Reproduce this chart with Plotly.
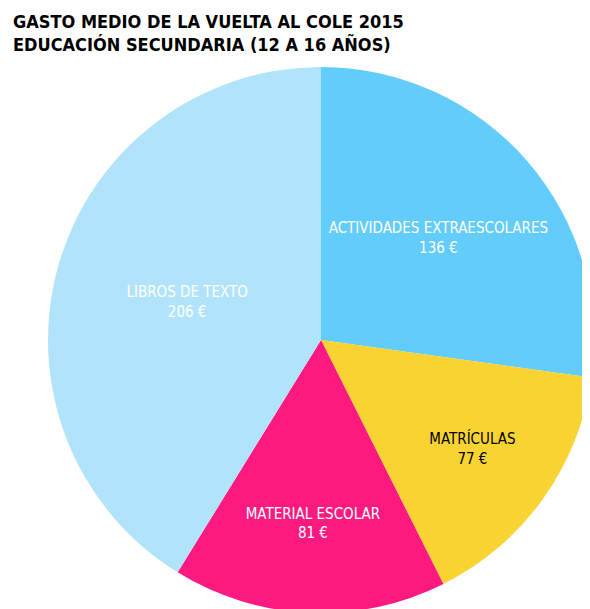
import plotly.graph_objects as go

labels = ["ACTIVIDADES EXTRAESCOLARES", "MATRÍCULAS", "MATERIAL ESCOLAR", "LIBROS DE TEXTO"]
values = [136, 77, 81, 206]
colors = ["#62ccfb", "#f9d331", "#fd1a80", "#b1e4fb"]
text_colors = ["white", "black", "white", "white"]

fig = go.Figure(go.Pie(
    labels=labels, values=values, sort=False, direction="clockwise", rotation=0,
    marker=dict(colors=colors, line=dict(width=0)),
    text=[f"{l}<br>{v} €" for l, v in zip(labels, values)],
    textinfo="text", textposition="inside", insidetextorientation="horizontal",
    textfont=dict(family="Liberation Sans Narrow, DejaVu Sans Condensed, sans-serif", size=15, color=text_colors),
    hoverinfo="label+value",
    domain=dict(x=[40/590, 586/590], y=[1-605/609, 1-59/609]),
    showlegend=False,
))
fig.update_layout(
    width=590, height=609, margin=dict(l=0, r=0, t=0, b=0),
    paper_bgcolor="white",
    font=dict(family="Liberation Sans Narrow, DejaVu Sans Condensed, sans-serif"),
    annotations=[dict(
        text="<b>GASTO MEDIO DE LA VUELTA AL COLE 2015<br>EDUCACIÓN SECUNDARIA (12 A 16 AÑOS)</b>",
        x=0.005, y=0.998, xref="paper", yref="paper", xanchor="left", yanchor="top",
        align="left", showarrow=False, font=dict(size=18, color="black"))],
)
fig.write_html("out.html")
